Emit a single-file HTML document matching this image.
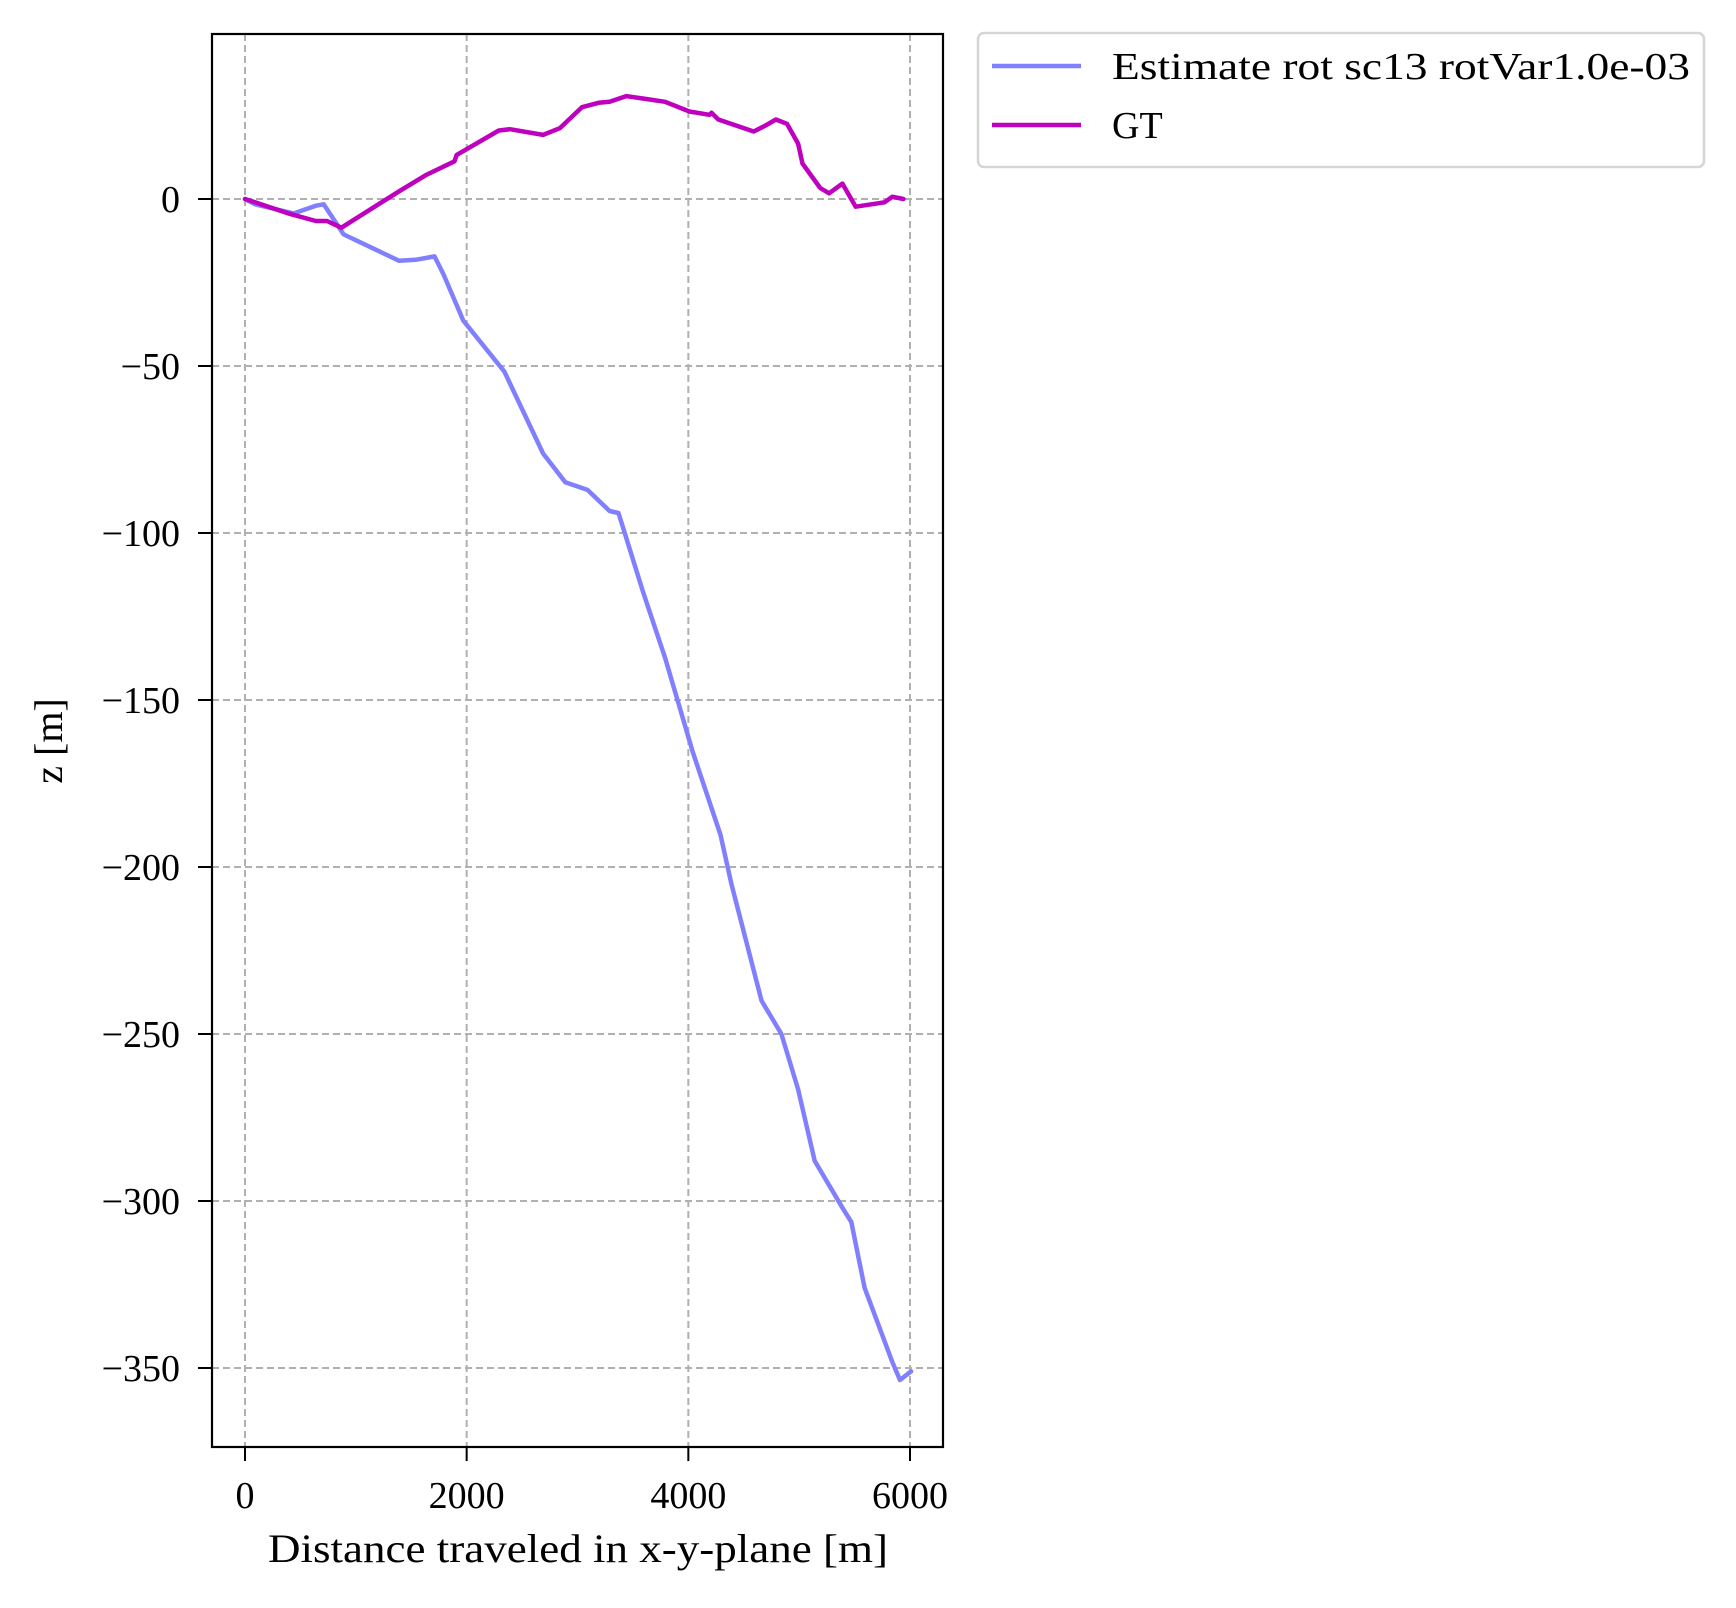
<!DOCTYPE html>
<html><head><meta charset="utf-8"><style>
html,body{margin:0;padding:0;background:#fff;}
svg text{font-family:"Liberation Serif",serif;fill:#000;}
</style></head><body>
<svg id="chart" width="1736" height="1603" xmlns="http://www.w3.org/2000/svg">
<g id="grid"></g>
<g id="series"></g>
<rect x="212" y="34" width="731" height="1413" fill="none" stroke="#000" stroke-width="2.2"/>
<g id="ticks"></g>
<text x="578" y="1562" font-size="40" text-anchor="middle" textLength="620" lengthAdjust="spacingAndGlyphs">Distance traveled in x-y-plane [m]</text>
<text transform="translate(62,741) rotate(-90)" font-size="40" text-anchor="middle">z [m]</text>
<g>
<rect x="978" y="33" width="726" height="134" rx="6" fill="#fff" stroke="#d5d5d5" stroke-width="2.5"/>
<line x1="992" y1="66" x2="1081" y2="66" stroke="#8080ff" stroke-width="4.5"/>
<text x="1112" y="79" font-size="38" textLength="578" lengthAdjust="spacingAndGlyphs">Estimate rot sc13 rotVar1.0e-03</text>
<line x1="992" y1="125" x2="1081" y2="125" stroke="#bf00bf" stroke-width="4.5"/>
<text x="1112" y="138" font-size="38">GT</text>
</g>
</svg>
<script>
const xTicks=[0,2000,4000,6000];
const yTicks=[0,-50,-100,-150,-200,-250,-300,-350];
const gtX=[0,90,390,640,740,870,1390,1640,1890,1910,2290,2390,2690,2840,3040,3190,3290,3440,3590,3790,4010,4190,4210,4270,4590,4690,4790,4890,4990,5030,5190,5270,5390,5510,5770,5840,5940];
const gtZ=[0,-1,-4.3,-6.6,-6.6,-8.6,2.3,7.3,11.3,13.2,20.5,20.9,19.2,21.2,27.5,28.8,29.1,30.8,30.1,29.1,26.2,25.2,25.8,23.8,20.2,21.9,23.8,22.5,16.6,10.6,3.3,1.7,4.6,-2.3,-1,0.7,0];
const estX=[0,90,440,640,710,890,1390,1540,1710,1790,1970,2340,2690,2890,3090,3290,3370,3590,3790,4040,4290,4390,4660,4840,4990,5140,5390,5470,5590,5840,5910,6010];
const estZ=[0,-1.6,-4.3,-2,-1.6,-10.6,-18.5,-18.2,-17.2,-22.5,-36.4,-51.7,-76.2,-84.8,-87.1,-93.4,-94,-117.5,-137.4,-165.6,-190.4,-205.3,-240,-250,-266.6,-288,-302,-306.3,-326,-348.2,-353.6,-351];
const NS='http://www.w3.org/2000/svg';
const X0=245,X1=910,Y0=199,Y350=1368;
function sx(v){return X0+v*(X1-X0)/6000;}
function sy(v){return Y0+(-v)*(Y350-Y0)/350;}
function mk(tag,attrs,parent){const e=document.createElementNS(NS,tag);for(const k in attrs)e.setAttribute(k,attrs[k]);parent.appendChild(e);return e;}
const grid=document.getElementById('grid'),ticks=document.getElementById('ticks'),series=document.getElementById('series');
xTicks.forEach(t=>{
 const g=mk('line',{x1:sx(t),x2:sx(t),y1:34,y2:1447,stroke:'#b0b0b0','stroke-width':2,'stroke-dasharray':'7,4'},grid);
 
 
 const tk=mk('line',{x1:sx(t),x2:sx(t),y1:1447,y2:1461,stroke:'#000','stroke-width':2},ticks);
 
 
 const tl=mk('text',{x:sx(t),y:1508,'font-size':38,'text-anchor':'middle'},ticks);
 tl.textContent=String(t);
 
 
});
yTicks.forEach(t=>{
 const g=mk('line',{x1:212,x2:943,y1:sy(t),y2:sy(t),stroke:'#b0b0b0','stroke-width':2,'stroke-dasharray':'7,4'},grid);
 
 
 const tk=mk('line',{x1:198,x2:212,y1:sy(t),y2:sy(t),stroke:'#000','stroke-width':2},ticks);
 
 
 const tl=mk('text',{x:180,y:sy(t)+13,'font-size':38,'text-anchor':'end'},ticks);
 tl.textContent=(t<0?'\u2212':'')+Math.abs(t);
 
 
});
function path(xs,zs){return xs.map((x,i)=>(i?'L':'M')+sx(x).toFixed(1)+','+sy(zs[i]).toFixed(1)).join(' ');}
const pe=mk('path',{d:path(estX,estZ),fill:'none',stroke:'#8080ff','stroke-width':4.5,'stroke-linejoin':'round','stroke-linecap':'round'},series);


const pg=mk('path',{d:path(gtX,gtZ),fill:'none',stroke:'#bf00bf','stroke-width':4.5,'stroke-linejoin':'round','stroke-linecap':'round'},series);


</script>
</body></html>
